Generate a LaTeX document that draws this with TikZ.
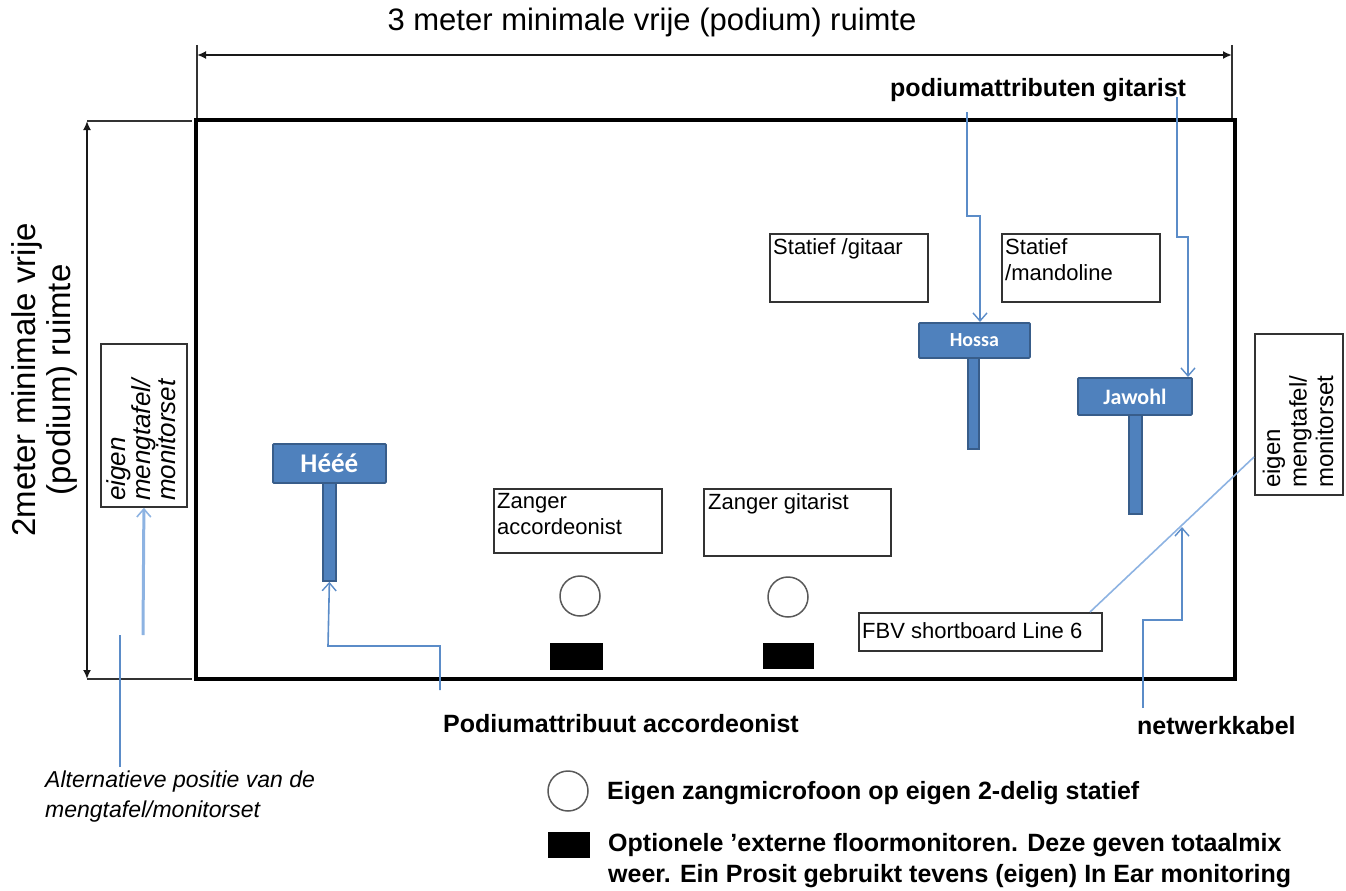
\documentclass[tikz,border=0pt]{standalone}
\usepackage{fontspec}
\setmainfont{Liberation Sans}
\newfontfamily\signfont{Carlito}
\usetikzlibrary{arrows.meta,calc}
\definecolor{signblue}{HTML}{4F81BD}
\definecolor{signedge}{HTML}{385D8A}
\definecolor{connblue}{HTML}{5B8CC8}
\definecolor{lightconn}{HTML}{8DB3E2}
\definecolor{boxedge}{HTML}{333333}
\begin{document}
\begin{tikzpicture}[x=1pt,y=-1pt,
  stage/.style={draw=black,line width=4pt},
  dimline/.style={draw=black!90,line width=2.2pt},
  dimarrow/.style={dimline,{Latex[length=9pt,width=8pt]}-{Latex[length=9pt,width=8pt]}},
  extline/.style={draw=black!80,line width=1.2pt},
  infobox/.style={draw=boxedge,line width=1.8pt,fill=white,inner sep=0pt,anchor=north west},
  boxtext/.style={inner sep=0pt,anchor=north west,align=left,font=\fontsize{22}{26}\selectfont},
  sign/.style={draw=signedge,fill=signblue,line width=1.8pt,rounded corners=1pt,inner sep=0pt,text=white,anchor=north west},
  post/.style={draw=signedge,fill=signblue,line width=1.8pt,inner sep=0pt,anchor=north west},
  conn/.style={draw=connblue,line width=1.6pt},
  connarrow/.style={conn,-{Straight Barb[length=8pt,width=14pt,line width=1.4pt]}},
  boldlbl/.style={inner sep=0pt,font=\bfseries\fontsize{25}{31}\selectfont,align=left},
  mic/.style={draw=black!65,line width=1.5pt,fill=white,circle,inner sep=0pt,minimum size=40pt},
  floormon/.style={fill=black,inner sep=0pt,anchor=north west}
]
\useasboundingbox (0,0) rectangle (1346,891);

% title and dimensions
\node[font=\fontsize{31}{34}\selectfont] (title) at (652,22) {3 meter minimale vrije (podium) ruimte};
\coordinate (dimTL) at (197,45);
\coordinate (dimTR) at (1232,45);
\coordinate (dimTLb) at (197,120);
\coordinate (dimTRb) at (1232,120);
\draw[extline] (dimTL) -- (dimTLb);
\draw[extline] (dimTR) -- (dimTRb);
\coordinate (arTL) at (197,55);
\coordinate (arTR) at (1232,55);
\draw[dimarrow] (arTL) -- (arTR);

\node[rotate=90,align=center,font=\fontsize{33}{35}\selectfont] (sidetitle) at (44,380) {2meter minimale vrije\\(podium) ruimte};
\coordinate (dimLT) at (87,121);
\coordinate (dimLB) at (87,679);
\coordinate (dimLTr) at (192,121);
\coordinate (dimLBr) at (192,679);
\draw[extline] (dimLT) -- (dimLTr);
\draw[extline] (dimLB) -- (dimLBr);
\draw[dimarrow] (dimLT) -- (dimLB);

% stage
\draw[stage] (195.5,120) rectangle (1235,679);

% info boxes
\node[infobox,minimum width=86pt,minimum height=163pt] (mixL) at (100,343) {};
\node[rotate=90,anchor=west,inner sep=0pt,align=left,font=\itshape\fontsize{26}{25}\selectfont] (mixLtxt) at (141,501) {eigen\\mengtafel/\\monitorset};

\node[infobox,minimum width=88pt,minimum height=161pt] (mixR) at (1254,333) {};
\node[rotate=90,anchor=west,inner sep=0pt,align=left,font=\fontsize{24}{26.5}\selectfont] (mixRtxt) at (1298,488) {eigen\\mengtafel/\\monitorset};

\node[infobox,minimum width=158pt,minimum height=68pt] (statg) at (769,233) {};
\node[boxtext] (statgtxt) at (773,238) {Statief /gitaar};
\node[infobox,minimum width=158pt,minimum height=68pt] (statm) at (1001,233) {};
\node[boxtext] (statmtxt) at (1005,238) {Statief\\/mandoline};

\node[infobox,minimum width=168pt,minimum height=64pt] (zacc) at (493,488) {};
\node[boxtext] (zacctxt) at (497,493) {Zanger\\accordeonist};
\node[infobox,minimum width=187pt,minimum height=67pt] (zgit) at (703,488) {};
\node[boxtext] (zgittxt) at (708,493) {Zanger gitarist};

\node[infobox,minimum width=243pt,minimum height=38pt] (fbv) at (858,612) {};
\node[boxtext,anchor=west] (fbvtxt) at (862,631) {FBV shortboard Line 6};

% mics and floor monitors
\node[mic] (mic1) at (580,596) {};
\node[mic] (mic2) at (788,597) {};
\node[floormon,minimum width=53pt,minimum height=27pt] (mon1) at (550,643) {};
\node[floormon,minimum width=51pt,minimum height=26pt] (mon2) at (763,643) {};

% signs
\node[post,minimum width=13pt,minimum height=102pt] (heepost) at (322,478) {};
\node[sign,minimum width=113pt,minimum height=39pt,font=\signfont\bfseries\fontsize{27}{28}\selectfont] (hee) at (272,443) {Hééé};
\node[post,minimum width=11pt,minimum height=93pt] (hossapost) at (967,355) {};
\node[sign,minimum width=111pt,minimum height=35pt,font=\signfont\bfseries\fontsize{20}{22}\selectfont] (hossa) at (918,322) {Hossa};
\node[post,minimum width=13pt,minimum height=101pt] (jawpost) at (1128,412) {};
\node[sign,minimum width=114pt,minimum height=37pt,font=\signfont\bfseries\fontsize{22}{23}\selectfont] (jawohl) at (1077,377) {Jawohl};

% labels
\node[boldlbl,anchor=west] (pacc) at (443,724) {Podiumattribuut accordeonist};
\node[boldlbl,anchor=west] (pgit) at (890,90) {podiumattributen gitarist};
\node[boldlbl,anchor=west] (netw) at (1137,726) {netwerkkabel};
\node[inner sep=0pt,anchor=west,align=left,font=\itshape\fontsize{23}{30}\selectfont] (alt) at (45,797) {Alternatieve positie van de\\mengtafel/monitorset};

% connectors
\coordinate (paStart) at (440,690);
\coordinate (paBend) at (328,646);
\draw[connarrow] (paStart) |- (paBend) -- (heepost.south);

\coordinate (hoStart) at (967,112);
\coordinate (hoBend) at (980,216);
\coordinate (hoEnd) at (980,322);
\draw[connarrow] (hoStart) |- (hoBend) -- (hoEnd);

\coordinate (jaStart) at (1177,97);
\coordinate (jaBend) at (1188,237);
\coordinate (jaEnd) at (1188,377);
\draw[connarrow] (jaStart) |- (jaBend) -- (jaEnd);

\coordinate (fbvOut) at (1090,612);
\coordinate (mixRin) at (1254,457);
\draw[draw=lightconn,line width=1.6pt] (fbvOut) -- (mixRin);

\coordinate (nwStart) at (1143,708);
\coordinate (nwBend) at (1182,620);
\coordinate (nwEnd) at (1182,527);
\draw[connarrow] (nwStart) |- (nwBend) -- (nwEnd);

\coordinate (altStart) at (120,767);
\coordinate (altTop) at (120,635);
\draw[conn] (altStart) -- (altTop);
\coordinate (mixLin) at (143,635);
\draw[draw=lightconn,line width=3pt,-{Straight Barb[length=8pt,width=14pt,line width=1.6pt]}] (mixLin) -- (mixL.south);

% legend
\node[mic] (legmic) at (568,791) {};
\node[boldlbl,anchor=west] (legmictxt) at (607,793) {Eigen zangmicrofoon op eigen 2-delig statief};
\node[floormon,minimum width=42pt,minimum height=26pt] (legmon) at (548,832) {};
\node[boldlbl,anchor=west] (legmontxt) at (608,861) {Optionele 'externe floormonitoren. Deze geven totaalmix\\weer. Ein Prosit gebruikt tevens (eigen) In Ear monitoring};
\end{tikzpicture}
\end{document}
